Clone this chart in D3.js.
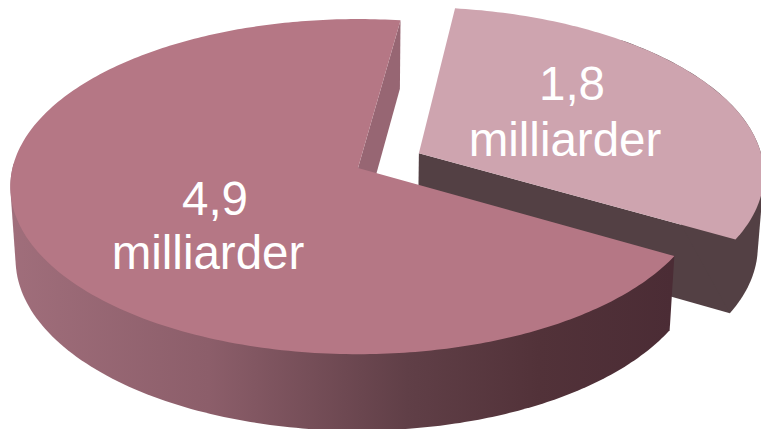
<!DOCTYPE html>
<html>
<head>
<meta charset="utf-8">
<script src="https://cdn.jsdelivr.net/npm/d3@7"></script>
<style>
html,body{margin:0;padding:0;background:#fff}
svg{display:block}
text{font-family:"Liberation Sans",Arial,sans-serif;fill:#fff;text-anchor:middle}
</style>
</head>
<body>
<svg id="chart" width="761" height="429"></svg>
<script>
// Chart values
const sliceNames = ["Mindre del", "Større del"];
const sliceValues = [1.8, 4.9];
const unitLabel = "milliarder";

const W = 761, H = 429;
const deg = Math.PI / 180;

// View of the tilted disc
const view = {cx: 358, cy: 168, rx: 345.5, ry: 165.5, eye: 9, depth: 72, warp: 7.85 * deg, warpCentre: 64 * deg};
const explode = {X: 0.178, Y: -0.09};

// Slice angles, clockwise from the back of the disc
const arcs = d3.pie().sort(null).value(d => d)
  .startAngle(15.65 * deg).endAngle(375.65 * deg)(sliceValues);

// Oblique viewing makes the near-right quadrant look wider
const viewAngle = a => a + view.warp * Math.sin(2 * (a - view.warpCentre));

// Disc coordinates (unit radius) to screen; z = 0 top face, z = 1 bottom face
function project(X, Y, z) {
  const s = view.eye / (view.eye - Y);
  return [
    view.cx + X * s * view.rx * (1 - 0.015 * z),
    view.cy + Y * s * view.ry * (1 + 0.024 * z) + z * view.depth
  ];
}
function rimPoint(a, z, off) {
  const t = viewAngle(a);
  return project(Math.sin(t) + off.X, -Math.cos(t) + off.Y, z);
}
function rim(a0, a1, z, off) {
  const n = Math.max(2, Math.ceil(Math.abs(a1 - a0) / deg));
  return d3.range(n + 1).map(i => rimPoint(a0 + (a1 - a0) * i / n, z, off));
}
const centre = (z, off) => project(off.X, off.Y, z);
const line = d3.line();
const closed = pts => line(pts) + "Z";
// Outer wall: the hull of the top and bottom rim arcs gives the straight silhouette edges
const wall = (a0, a1, off) => closed(d3.polygonHull([...rim(a0, a1, 0, off), ...rim(a0, a1, 1, off)]));

const svg = d3.select("#chart").attr("viewBox", `0 0 ${W} ${H}`);

// Side shading of the large slice runs from left to right
const grad = svg.append("defs").append("linearGradient")
  .attr("id", "sideShade").attr("gradientUnits", "userSpaceOnUse")
  .attr("x1", 10).attr("x2", 672).attr("y1", 0).attr("y2", 0);
[[0, "#a06e7b"], [0.3, "#8c5e6a"], [0.6, "#603f47"], [0.8, "#523239"], [1, "#4b2c35"]]
  .forEach(([o, c]) => grad.append("stop").attr("offset", o).attr("stop-color", c));

const none = {X: 0, Y: 0};
const [small, big] = arcs;
const g = svg.append("g");

// Pulled-out slice: cut wall, outer wall, top face
g.append("path").attr("fill", "#534044")
  .attr("d", closed([centre(0, explode), rimPoint(small.endAngle, 0, explode), rimPoint(small.endAngle, 1, explode), centre(1, explode)]));
g.append("path").attr("fill", "#534044")
  .attr("d", wall(small.startAngle + 30 * deg, small.endAngle, explode));
g.append("path").attr("fill", "#cea4af")
  .attr("d", closed([centre(0, explode), ...rim(small.startAngle, small.endAngle, 0, explode)]));

// Large slice: inner wall, outer wall (near side only, up to the left extreme), top face
g.append("path").attr("fill", "#976673")
  .attr("d", closed([centre(0, none), rimPoint(big.endAngle, 0, none), rimPoint(big.endAngle, 1, none), centre(1, none)]));
g.append("path").attr("fill", "url(#sideShade)")
  .attr("d", wall(big.startAngle, 266 * deg, none));
g.append("path").attr("fill", "#b57785")
  .attr("d", closed([centre(0, none), ...rim(big.startAngle, big.endAngle, 0, none)]));

// Value labels: number line and unit line
const labelAt = [{x: 572, unitX: 565, y: 100, unitY: 156}, {x: 215, unitX: 208, y: 215, unitY: 269}];
const fmt = v => String(v).replace(".", ",");
const labels = svg.append("g").selectAll("text").data(sliceValues).join("text")
  .attr("font-size", 47.5)
  .attr("aria-label", (d, i) => sliceNames[i]);
labels.append("tspan").attr("x", (d, i) => labelAt[i].x).attr("y", (d, i) => labelAt[i].y).text(fmt);
labels.append("tspan").attr("x", (d, i) => labelAt[i].unitX).attr("y", (d, i) => labelAt[i].unitY).text(unitLabel);
</script>
</body>
</html>
